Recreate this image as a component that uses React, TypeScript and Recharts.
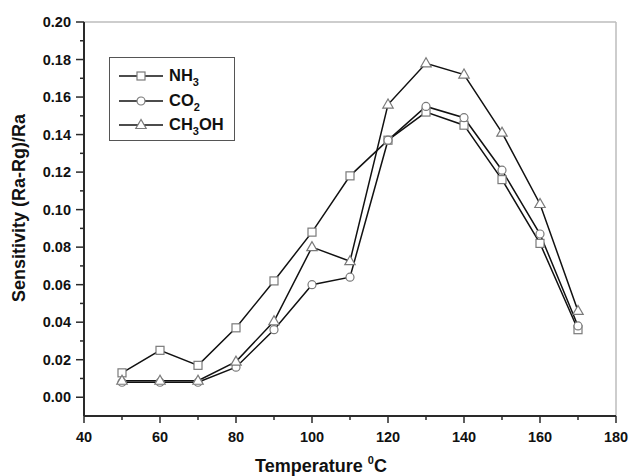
import React from 'react';
import { LineChart, Line, XAxis, YAxis, ReferenceLine, Legend } from 'recharts';

const temperatures = [50, 60, 70, 80, 90, 100, 110, 120, 130, 140, 150, 160, 170];
const nh3 = [0.013, 0.025, 0.017, 0.037, 0.062, 0.088, 0.118, 0.137, 0.152, 0.145, 0.116, 0.082, 0.036];
const co2 = [0.008, 0.008, 0.008, 0.016, 0.036, 0.060, 0.064, 0.137, 0.155, 0.149, 0.121, 0.087, 0.038];
const ch3oh = [0.0088, 0.0088, 0.0088, 0.019, 0.0405, 0.080, 0.0725, 0.156, 0.178, 0.172, 0.141, 0.103, 0.046];

const xTicks = [40, 50, 60, 70, 80, 90, 100, 110, 120, 130, 140, 150, 160, 170, 180];
const yTicks = [0, 0.01, 0.02, 0.03, 0.04, 0.05, 0.06, 0.07, 0.08, 0.09, 0.1, 0.11, 0.12, 0.13, 0.14, 0.15, 0.16, 0.17, 0.18, 0.19, 0.2];

const data = temperatures.map((t, i) => ({ t, nh3: nh3[i], co2: co2[i], ch3oh: ch3oh[i] }));

const FONT = 'Liberation Sans, Arial, sans-serif';
const MARK = '#7a7a7a';
const AXIS = '#2a2a2a';

const SquareDot = (p: any) => {
  if (p.cx == null || p.cy == null) return <g key={p.index} />;
  return <rect key={p.index} x={p.cx - 4} y={p.cy - 4} width={8} height={8} fill="#fff" stroke={MARK} strokeWidth={1.2} />;
};
const CircleDot = (p: any) => {
  if (p.cx == null || p.cy == null) return <g key={p.index} />;
  return <circle key={p.index} cx={p.cx} cy={p.cy} r={4} fill="#fff" stroke={MARK} strokeWidth={1.2} />;
};
const TriangleDot = (p: any) => {
  if (p.cx == null || p.cy == null) return <g key={p.index} />;
  const { cx, cy } = p;
  return (
    <polygon
      key={p.index}
      points={`${cx},${cy - 5.5} ${cx - 5.2},${cy + 3.5} ${cx + 5.2},${cy + 3.5}`}
      fill="#fff"
      stroke={MARK}
      strokeWidth={1.2}
    />
  );
};

const YTick = (props: any) => {
  const { x, y, payload } = props;
  const v = payload.value as number;
  const major = Math.round(v * 100) % 2 === 0;
  return (
    <g>
      <line x1={x} x2={x - (major ? 8 : 4)} y1={y} y2={y} stroke={AXIS} strokeWidth={1.5} />
      {major && (
        <text x={x - 13} y={y} dy={5} textAnchor="end" fontFamily={FONT} fontWeight="bold" fontSize={14.5} fill="#111">
          {v.toFixed(2)}
        </text>
      )}
    </g>
  );
};

const XTick = (props: any) => {
  const { x, y, payload } = props;
  const v = payload.value as number;
  const major = v % 20 === 0;
  return (
    <g>
      <line x1={x} x2={x} y1={y} y2={y + (major ? 7 : 4)} stroke={AXIS} strokeWidth={1.5} />
      {major && (
        <text x={x} y={y + 26} textAnchor="middle" fontFamily={FONT} fontWeight="bold" fontSize={14.5} fill="#111">
          {v}
        </text>
      )}
    </g>
  );
};

const legendItems = [
  { key: 'nh3', base: 'NH', sub: '3', rest: '', shape: 'square' },
  { key: 'co2', base: 'CO', sub: '2', rest: '', shape: 'circle' },
  { key: 'ch3oh', base: 'CH', sub: '3', rest: 'OH', shape: 'triangle' },
];

const LegendMarker = ({ shape }: { shape: string }) => (
  <svg width={46} height={14} style={{ display: 'block' }}>
    <line x1={1} x2={45} y1={7} y2={7} stroke="#111" strokeWidth={1.5} />
    {shape === 'square' && <rect x={19} y={3} width={8} height={8} fill="#fff" stroke={MARK} strokeWidth={1.2} />}
    {shape === 'circle' && <circle cx={23} cy={7} r={4} fill="#fff" stroke={MARK} strokeWidth={1.2} />}
    {shape === 'triangle' && <polygon points="23,1.5 17.8,10.5 28.2,10.5" fill="#fff" stroke={MARK} strokeWidth={1.2} />}
  </svg>
);

const LegendContent = () => (
  <div
    style={{
      border: '1.5px solid #555',
      background: '#fff',
      width: 126,
      height: 84,
      boxSizing: 'border-box',
      padding: '6px 0 0 8px',
      fontFamily: FONT,
      fontWeight: 'bold',
      fontSize: 16.5,
      color: '#111',
    }}
  >
    {legendItems.map((it) => (
      <div key={it.key} style={{ display: 'flex', alignItems: 'center', height: 24.5 }}>
        <LegendMarker shape={it.shape} />
        <span style={{ marginLeft: 5, whiteSpace: 'nowrap', lineHeight: '16px' }}>
          {it.base}
          <span style={{ fontSize: 11, position: 'relative', top: 5 }}>{it.sub}</span>
          {it.rest}
        </span>
      </div>
    ))}
  </div>
);

export default function App() {
  return (
    <div style={{ position: 'absolute', left: 0, top: 0, width: 630, height: 476, background: '#fff' }}>
      <LineChart width={630} height={476} data={data} margin={{ top: 22, right: 14, bottom: 30, left: 0 }}>
        <ReferenceLine y={0.2} stroke="#bdbdbd" strokeWidth={1.5} ifOverflow="visible" />
        <ReferenceLine x={180} stroke="#bdbdbd" strokeWidth={1.5} ifOverflow="visible" />
        <XAxis
          dataKey="t"
          type="number"
          domain={[40, 180]}
          ticks={xTicks}
          interval={0}
          height={30}
          tickSize={0}
          tickMargin={0}
          tickLine={false}
          axisLine={{ stroke: AXIS, strokeWidth: 2 }}
          tick={<XTick />}
          label={{
            content: () => (
              <text x={321} y={472} textAnchor="middle" fontFamily={FONT} fontWeight="bold" fontSize={18} fill="#111">
                Temperature <tspan fontSize={11} dy={-8}>0</tspan>
                <tspan dy={8}>C</tspan>
              </text>
            ),
          }}
        />
        <YAxis
          type="number"
          domain={[-0.01, 0.2]}
          allowDataOverflow
          ticks={yTicks}
          interval={0}
          width={84}
          tickSize={0}
          tickMargin={0}
          tickLine={false}
          axisLine={{ stroke: AXIS, strokeWidth: 2 }}
          tick={<YTick />}
          label={{
            content: () => (
              <text
                x={25}
                y={208}
                textAnchor="middle"
                transform="rotate(-90, 25, 208)"
                fontFamily={FONT}
                fontWeight="bold"
                fontSize={18}
                fill="#111"
              >
                Sensitivity (Ra-Rg)/Ra
              </text>
            ),
          }}
        />
        <Legend
          layout="horizontal"
          verticalAlign="middle"
          align="center"
          content={<LegendContent />}
          wrapperStyle={{ position: 'absolute', left: 109, top: 57, width: 126, height: 84 }}
        />
        <Line dataKey="nh3" name="NH3" stroke="#111" strokeWidth={1.5} dot={SquareDot} isAnimationActive={false} />
        <Line dataKey="co2" name="CO2" stroke="#111" strokeWidth={1.5} dot={CircleDot} isAnimationActive={false} />
        <Line dataKey="ch3oh" name="CH3OH" stroke="#111" strokeWidth={1.5} dot={TriangleDot} isAnimationActive={false} />
      </LineChart>
    </div>
  );
}
